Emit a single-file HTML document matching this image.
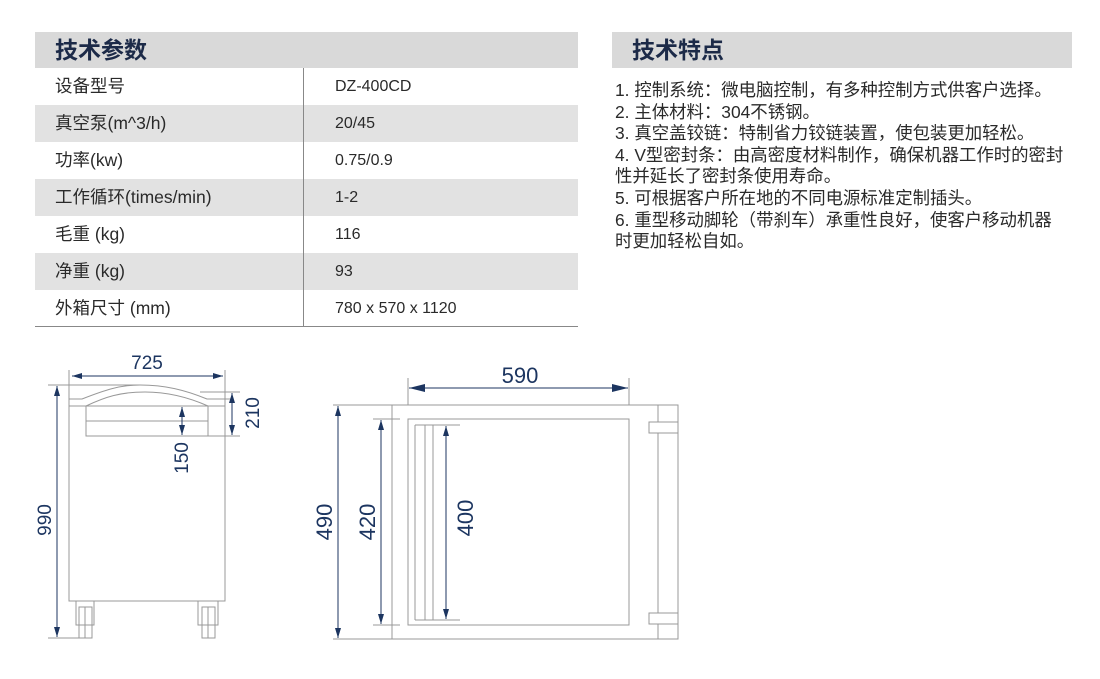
<!DOCTYPE html>
<html><head><meta charset="utf-8"><style>
body{margin:0;width:1100px;height:679px;background:#fff;position:relative;overflow:hidden;font-family:"Liberation Sans","Noto Sans CJK SC",sans-serif;color:#2a2a2a}
.h{position:absolute;background:#d9d9d9;height:36px;top:32px;font-weight:bold;font-size:23px;color:#1c2a48;line-height:36px}
.row{position:absolute;left:35px;width:543px;height:37px;line-height:37px;font-size:17.5px}
.g{background:#e2e2e2}
.row span{position:absolute}
.l{left:20px}.v{left:300px;font-size:16px}
.list{position:absolute;left:615px;top:80px;font-size:17.4px;line-height:21.6px;white-space:nowrap;color:#2a2a2a}
</style></head><body>
<div class="h" style="left:35px;width:543px"><span style="position:absolute;left:20px">技术参数</span></div>
<div class="h" style="left:612px;width:460px"><span style="position:absolute;left:20px">技术特点</span></div>
<div class="row" style="top:68px"><span class="l">设备型号</span><span class="v">DZ-400CD</span></div>
<div class="row g" style="top:105px"><span class="l">真空泵(m^3/h)</span><span class="v">20/45</span></div>
<div class="row" style="top:142px"><span class="l">功率(kw)</span><span class="v">0.75/0.9</span></div>
<div class="row g" style="top:179px"><span class="l">工作循环(times/min)</span><span class="v">1-2</span></div>
<div class="row" style="top:216px"><span class="l">毛重 (kg)</span><span class="v">116</span></div>
<div class="row g" style="top:253px"><span class="l">净重 (kg)</span><span class="v">93</span></div>
<div class="row" style="top:290px"><span class="l">外箱尺寸 (mm)</span><span class="v">780 x 570 x 1120</span></div>
<div style="position:absolute;left:303px;top:68px;width:1px;height:259px;background:#888"></div>
<div style="position:absolute;left:35px;top:326px;width:543px;height:1px;background:#888"></div>
<div class="list">1. 控制系统：微电脑控制，有多种控制方式供客户选择。<br>2. 主体材料：304不锈钢。<br>3. 真空盖铰链：特制省力铰链装置，使包装更加轻松。<br>4. V型密封条：由高密度材料制作，确保机器工作时的密封<br>性并延长了密封条使用寿命。<br>5. 可根据客户所在地的不同电源标准定制插头。<br>6. 重型移动脚轮（带刹车）承重性良好，使客户移动机器<br>时更加轻松自如。</div>
<svg width="1100" height="679" style="position:absolute;left:0;top:0" font-family="Liberation Sans,sans-serif">
<defs><marker id="a" markerWidth="16" markerHeight="8" refX="16" refY="4" orient="auto" markerUnits="userSpaceOnUse"><path d="M0,0L16,4L0,8z" fill="#1c3560"/></marker>
<marker id="b" markerWidth="10" markerHeight="6" refX="10" refY="3" orient="auto" markerUnits="userSpaceOnUse"><path d="M0,0L10,3L0,6z" fill="#1c3560"/></marker></defs>
<g stroke="#999" fill="none" stroke-width="1">
<path d="M69,370V601H225V370"/>
<path d="M48,385H140"/><path d="M69,399H82C105,390 120,385 140,385C165,385 185,390 207,399H232"/><path d="M86,406C105,397 120,392 145,392C170,392 190,398 208,406"/>
<path d="M69,406H225"/><rect x="86" y="406" width="122" height="30"/><path d="M86,421H208"/><path d="M208,436H240M200,392H240"/>
<rect x="76" y="601" width="18" height="24"/><rect x="79" y="607" width="13" height="31"/><path d="M85,607V638"/>
<rect x="198" y="601" width="20" height="24"/><rect x="202" y="607" width="13" height="31"/><path d="M208,607V638"/>
<path d="M48,638H90"/>
<path d="M408,378V405M629,378V405"/>
<rect x="392" y="405" width="286" height="234"/><path d="M658,405V639"/>
<rect x="408" y="419" width="221" height="206"/>
<rect x="649" y="422" width="29" height="11" fill="#fff"/><rect x="649" y="613" width="29" height="11" fill="#fff"/>
<path d="M415,425V620M425,425V620M433,425V620M415,425H460M415,620H460"/>
<path d="M333,405H392M333,639H392M373,419H400M373,625H400"/>
</g>
<g stroke="#1c3560" stroke-width="1">
<line x1="150" y1="376" x2="72" y2="376" marker-end="url(#b)"/><line x1="150" y1="376" x2="223" y2="376" marker-end="url(#b)"/>
<line x1="57" y1="500" x2="57" y2="386" marker-end="url(#b)"/><line x1="57" y1="500" x2="57" y2="637" marker-end="url(#b)"/>
<line x1="232" y1="413" x2="232" y2="393" marker-end="url(#b)"/><line x1="232" y1="413" x2="232" y2="435" marker-end="url(#b)"/>
<line x1="182" y1="421" x2="182" y2="407" marker-end="url(#b)"/><line x1="182" y1="421" x2="182" y2="435" marker-end="url(#b)"/>
<line x1="520" y1="388" x2="409" y2="388" marker-end="url(#a)"/><line x1="520" y1="388" x2="628" y2="388" marker-end="url(#a)"/>
<line x1="338" y1="520" x2="338" y2="406" marker-end="url(#b)"/><line x1="338" y1="520" x2="338" y2="638" marker-end="url(#b)"/>
<line x1="381" y1="520" x2="381" y2="420" marker-end="url(#b)"/><line x1="381" y1="520" x2="381" y2="624" marker-end="url(#b)"/>
<line x1="446" y1="520" x2="446" y2="426" marker-end="url(#b)"/><line x1="446" y1="520" x2="446" y2="619" marker-end="url(#b)"/>
</g>
<g fill="#1c3560" font-size="19" text-anchor="middle">
<text x="147" y="369">725</text>
<text x="520" y="383" font-size="22">590</text>
<text transform="translate(51,520) rotate(-90)">990</text>
<text transform="translate(259,413) rotate(-90)">210</text>
<text transform="translate(188,458) rotate(-90)">150</text>
<text transform="translate(332,522) rotate(-90)" font-size="22">490</text>
<text transform="translate(375,522) rotate(-90)" font-size="22">420</text>
<text transform="translate(473,518) rotate(-90)" font-size="22">400</text>
</g>
</svg>
</body></html>
